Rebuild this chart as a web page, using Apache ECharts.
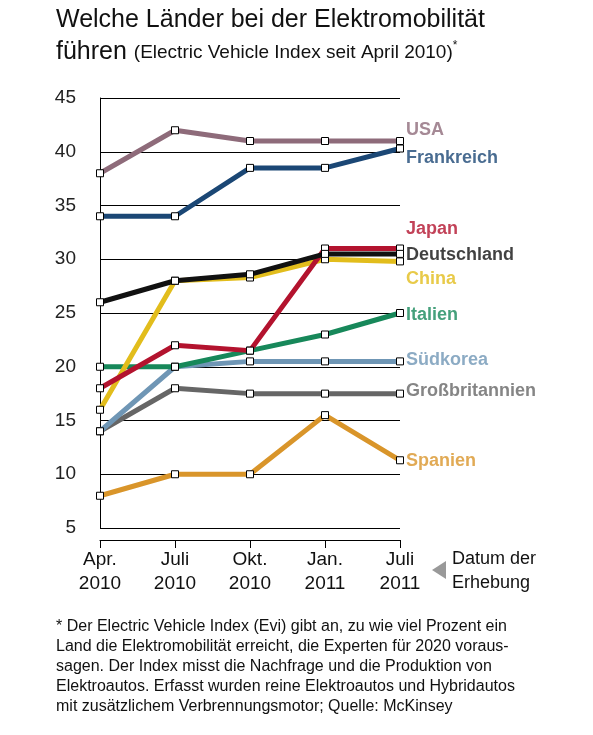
<!DOCTYPE html><html><head><meta charset="utf-8">
<script src="https://cdn.jsdelivr.net/npm/echarts@6/dist/echarts.min.js"></script>
<style>html,body{margin:0;background:#fff}#c{width:593px;height:735px}</style></head><body><div id="c"></div>
<script>
const categories = ['Apr.\n2010','Juli\n2010','Okt.\n2010','Jan.\n2011','Juli\n2011'];
const names = ['USA','Frankreich','Japan','Deutschland','China','Italien','Südkorea','Großbritannien','Spanien'];
const usa = [38,42,41,41,41];
const frankreich = [34,34,38.5,38.5,40.3];
const japan = [18,22,21.5,31,31];
const deutschland = [26,28,28.6,30.5,30.5];
const china = [16,28,28.3,30,29.8];
const italien = [20,20,21.5,23,25];
const suedkorea = [14,20,20.5,20.5,20.5];
const gb = [14,18,17.5,17.5,17.5];
const spanien = [8,10,10,15.5,11.3];
const labelY = [42,39.4,32.8,30.4,28.2,24.8,20.6,17.7,11.2];
const colors = ['#8e6b7a','#1b4775','#b3132e','#111111','#e2bd1c','#17885a','#6f96b5','#666666','#d9952a'];
const allData = [usa,frankreich,japan,deutschland,china,italien,suedkorea,gb,spanien];
const F = "'Liberation Sans',sans-serif";
const order = [8,7,6,5,4,2,3,1,0];
const series = order.map(i => ({
  type:'line', name:names[i], data: allData[i].map((v,k)=>[k,v]),
  lineStyle:{color:colors[i],width:5}, itemStyle:{color:'#fff',borderColor:'#000',borderWidth:1},
  symbol:'rect', symbolSize:7, z:2+order.indexOf(i)
}));
series.push({type:'scatter', data: labelY.map((v,i)=>({value:[4,v],label:{color:colors[i]}})), symbolSize:0,
  label:{show:true,position:'right',distance:6,fontFamily:F,fontWeight:'bold',fontSize:18,
  formatter:p=>names[p.dataIndex]}, silent:true, z:20});
const chart = echarts.init(document.getElementById('c'));
chart.setOption({
  animation:false,
  grid:{left:100,right:193,top:98,bottom:207,containLabel:false},
  xAxis:{type:'value',min:0,max:4,interval:1,offset:12,
    axisLine:{show:true,lineStyle:{color:'#000',width:1}},
    axisTick:{show:true,length:8,lineStyle:{color:'#000'}},splitLine:{show:false},
    axisLabel:{fontFamily:F,fontSize:19,color:'#111',lineHeight:24,margin:8,
      formatter:v=>categories[v]}},
  yAxis:{type:'value',min:5,max:45,interval:5,offset:12,
    axisLine:{show:true,lineStyle:{color:'#000'}},axisTick:{show:false},
    splitLine:{lineStyle:{color:'#000',width:1}},
    axisLabel:{fontFamily:F,fontSize:19,color:'#222',margin:12}},
  series:series,
  graphic:[
    {type:'text',left:56,top:8,style:{text:'Welche Länder bei der Elektromobilität',font:'25px '+F,fill:'#111'}},
    {type:'text',left:56,top:40,style:{rich:{a:{fontFamily:F,fontSize:25,fill:'#111'},b:{fontFamily:F,fontSize:19,fill:'#111'},c:{fontFamily:F,fontSize:12,fill:'#111',verticalAlign:'top'}},
      text:'{a|führen }{b|(Electric Vehicle Index seit April 2010)}{c|*}'}},
    {type:'polygon',shape:{points:[[432,570],[446,561],[446,579]]},style:{fill:'#999'}},
    {type:'text',left:452,top:547,style:{text:'Datum der\nErhebung',font:'18px '+F,fill:'#111',lineHeight:24}},
    {type:'text',left:56,top:617,style:{text:'* Der Electric Vehicle Index (Evi) gibt an, zu wie viel Prozent ein\nLand die Elektromobilität erreicht, die Experten für 2020 voraus-\nsagen. Der Index misst die Nachfrage und die Produktion von\nElektroautos. Erfasst wurden reine Elektroautos und Hybridautos\nmit zusätzlichem Verbrennungsmotor; Quelle: McKinsey',
      font:'16px '+F,fill:'#111',lineHeight:20}}
  ]
});
</script></body></html>
